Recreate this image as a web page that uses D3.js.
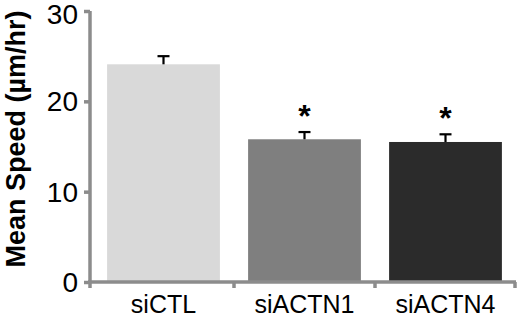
<!DOCTYPE html>
<html>
<head>
<meta charset="utf-8">
<script src="https://cdn.jsdelivr.net/npm/d3@7"></script>
<style>
  body { margin: 0; background: #fff; }
  svg { display: block; font-family: Arial, "Liberation Sans", sans-serif; }
</style>
</head>
<body>
<script>
// data
const categories = ["siCTL", "siACTN1", "siACTN4"];
const means = [24.1, 15.8, 15.5];
const errors = [0.9, 0.8, 0.85];
const significant = [false, true, true];
const barColors = ["#d9d9d9", "#7f7f7f", "#2b2b2b"];
const yTicks = [0, 10, 20, 30];

const width = 522, height = 318;
const axisColor = "#8c8c8c";

const svg = d3.select("body").append("svg")
  .attr("width", width)
  .attr("height", height);

const y = d3.scaleLinear().domain([0, 30]).range([282, 11]);
const x = d3.scaleBand().domain(categories).range([93, 516])
  .paddingInner(0.2).paddingOuter(0.1);

// bars
svg.append("g").selectAll("rect")
  .data(categories)
  .join("rect")
  .attr("x", d => x(d))
  .attr("width", x.bandwidth())
  .attr("y", (d, i) => y(means[i]))
  .attr("height", (d, i) => y(0) - y(means[i]))
  .attr("fill", (d, i) => barColors[i]);

// error bars (upper only)
const err = svg.append("g").attr("stroke", "#000").attr("stroke-width", 2.2);
categories.forEach((c, i) => {
  const cx = x(c) + x.bandwidth() / 2;
  err.append("line")
    .attr("x1", cx).attr("x2", cx)
    .attr("y1", y(means[i])).attr("y2", y(means[i] + errors[i]));
  err.append("line")
    .attr("x1", cx - 6).attr("x2", cx + 6)
    .attr("y1", y(means[i] + errors[i])).attr("y2", y(means[i] + errors[i]));
});

// asterisks
svg.append("g").selectAll("text")
  .data(categories.filter((c, i) => significant[i]))
  .join("text")
  .attr("x", d => x(d) + x.bandwidth() / 2)
  .attr("y", d => y(means[categories.indexOf(d)] + errors[categories.indexOf(d)]) - 5)
  .attr("text-anchor", "middle")
  .attr("font-size", 32)
  .attr("font-weight", "bold")
  .text("*");

// y axis
const yAxis = svg.append("g")
  .attr("transform", "translate(90,0)")
  .call(d3.axisLeft(y).tickValues(yTicks).tickSize(6).tickPadding(6));
yAxis.select(".domain").attr("stroke", axisColor).attr("stroke-width", 3.5)
  .attr("d", `M0,${y(30)}V${y(0)}`);
yAxis.selectAll(".tick line").attr("stroke", axisColor).attr("stroke-width", 3.5);
yAxis.selectAll(".tick text")
  .attr("font-size", 28).attr("fill", "#000")
  .attr("font-family", "Arial, 'Liberation Sans', sans-serif")
  .attr("dy", d => d === 30 ? "0.45em" : "0.34em");

// x axis: line with ticks at category boundaries
const xg = svg.append("g").attr("stroke", axisColor).attr("stroke-width", 3.5);
xg.append("line").attr("x1", 88).attr("x2", 516).attr("y1", y(0)).attr("y2", y(0));
const step = x.step();
const bounds = [90].concat(categories.map(c => x(c) - step * x.paddingInner() / 2 + step).slice(0, 2), [515]);
xg.selectAll("line.t")
  .data(bounds)
  .join("line")
  .attr("class", "t")
  .attr("x1", d => d).attr("x2", d => d)
  .attr("y1", y(0)).attr("y2", y(0) + 6);

// category labels
svg.append("g").selectAll("text")
  .data(categories)
  .join("text")
  .attr("x", d => x(d) + x.bandwidth() / 2)
  .attr("y", 313)
  .attr("text-anchor", "middle")
  .attr("font-size", 25)
  .text(d => d);

// y label
svg.append("text")
  .attr("transform", "translate(25,139) rotate(-90)")
  .attr("text-anchor", "middle")
  .attr("font-size", 27)
  .attr("font-weight", "bold")
  .text("Mean Speed (\u00b5m/hr)");
</script>
</body>
</html>
